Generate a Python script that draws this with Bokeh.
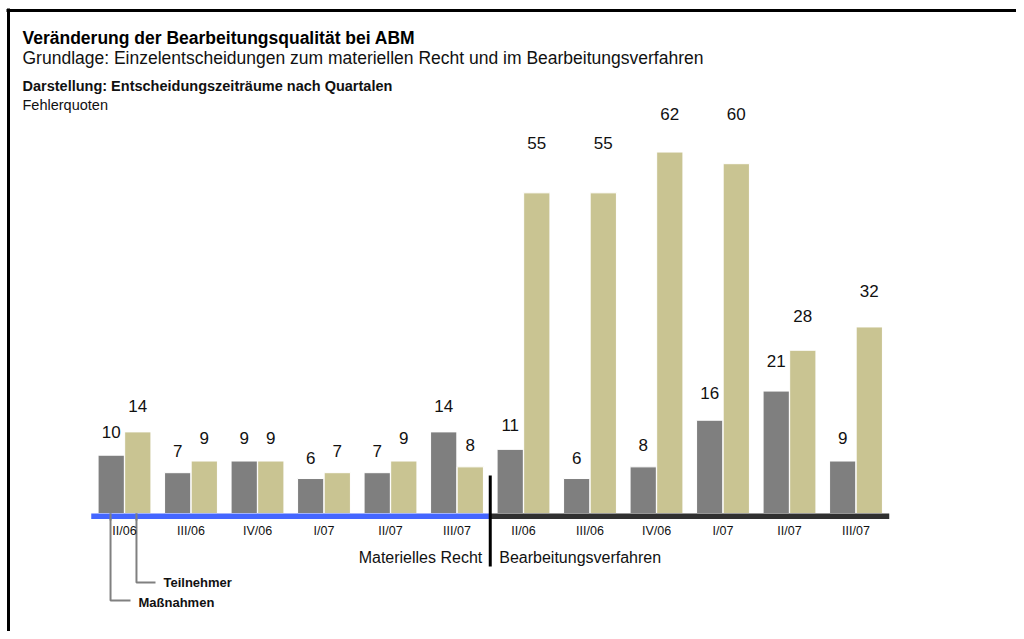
from bokeh.plotting import figure
from bokeh.models import ColumnDataSource, Label
from bokeh.core.properties import value
from bokeh.transform import dodge
from bokeh.embed import file_html
from bokeh.resources import INLINE

# ---- data ----
quarters = ["II/06", "III/06", "IV/06", "I/07", "II/07", "III/07",
            "II/06", "III/06", "IV/06", "I/07", "II/07", "III/07"]
massnahmen = [10, 7, 9, 6, 7, 14, 11, 6, 8, 16, 21, 9]
teilnehmer = [14, 9, 9, 7, 9, 8, 55, 55, 62, 60, 28, 32]
sections = ["Materielles Recht", "Bearbeitungsverfahren"]
title = "Veränderung der Bearbeitungsqualität bei ABM"
subtitle = "Grundlage: Einzelentscheidungen zum materiellen Recht und im Bearbeitungsverfahren"
darstellung = "Darstellung: Entscheidungszeiträume nach Quartalen"
unit_label = "Fehlerquoten"
legend_names = ["Maßnahmen", "Teilnehmer"]

FONT = "Liberation Sans"
W, H = 1016, 631
GROUP_PX = 66.5          # pixels per group
UNIT_PX = 5.83           # pixels per value unit
X0_PX = 124              # x of first group centre
Y0_PX = 513              # y of baseline (from top)

def X(px):
    return (px - X0_PX) / GROUP_PX

def Y(py):
    return (Y0_PX - py) / UNIT_PX

n = len(quarters)
idx = list(range(n))
src = ColumnDataSource(dict(
    x=idx, q=quarters, m=massnahmen, t=teilnehmer,
    m_lab=[str(v) for v in massnahmen], t_lab=[str(v) for v in teilnehmer],
    m_y=[min(v * 1.1 + 3, 68.5) for v in massnahmen],
    t_y=[min(v * 1.1 + 3, 68.5) for v in teilnehmer],
    tick_y=[Y(530)] * n,
))

p = figure(width=W, height=H, output_backend="svg", toolbar_location=None,
           x_range=(X(0), X(W)), y_range=(Y(H), Y(0)),
           min_border=0, min_border_left=0, min_border_right=0,
           min_border_top=0, min_border_bottom=0)
p.axis.visible = False
p.grid.visible = False
p.outline_line_color = None
p.background_fill_color = "white"
p.border_fill_color = "white"

GREY = "#7f7f7f"
TAN = "#c9c492"
BW = 0.395
OFF = 0.2

p.vbar(x=dodge("x", -OFF, range=p.x_range), top="m", bottom=0, width=BW, source=src,
       fill_color=GREY, line_color="white", line_width=1)
p.vbar(x=dodge("x", OFF, range=p.x_range), top="t", bottom=0, width=BW, source=src,
       fill_color=TAN, line_color="white", line_width=1)

# value labels
p.text(x=dodge("x", -OFF, range=p.x_range), y="m_y", text="m_lab", source=src,
       text_align="center", text_baseline="middle",
       text_font=value(FONT), text_font_size="17px", text_color="#111111")
p.text(x=dodge("x", OFF, range=p.x_range), y="t_y", text="t_lab", source=src,
       text_align="center", text_baseline="middle",
       text_font=value(FONT), text_font_size="17px", text_color="#111111")

# leader lines for legend
LX_M = -OFF - 0.01
LX_T = OFF - 0.02
p.line(x=[LX_M, LX_M, X(130)], y=[0, Y(600), Y(600)], line_color="#808080", line_width=2)
p.line(x=[LX_T, LX_T, X(155)], y=[0, Y(582), Y(582)], line_color="#808080", line_width=2)

# axis bands
half = n // 2
p.quad(left=[-0.5], right=[half - 0.52], top=[0], bottom=[Y(518.5)],
       fill_color="#4466ff", line_color=None)
p.quad(left=[half - 0.52], right=[n - 0.5], top=[0], bottom=[Y(518.5)],
       fill_color="#303030", line_color=None)
# leader segments cross the band
p.segment(x0=[LX_M, LX_T], y0=[0, 0], x1=[LX_M, LX_T], y1=[Y(520), Y(520)],
          line_color="#808080", line_width=2)

# separator
p.segment(x0=[half - 0.5], y0=[Y(475)], x1=[half - 0.5], y1=[Y(566)],
          line_color="black", line_width=3)

# tick labels
p.text(x="x", y="tick_y", text="q", source=src, text_align="center", text_baseline="middle",
       text_font=value(FONT), text_font_size="12.5px", text_color="#111111")

# section labels
p.add_layout(Label(x=half - 0.5, y=Y(557), x_offset=-8, text=sections[0], text_align="right",
                   text_baseline="middle", text_font=FONT, text_font_size="16px", text_color="#111111"))
p.add_layout(Label(x=half - 0.5, y=Y(557), x_offset=9, text=sections[1], text_align="left",
                   text_baseline="middle", text_font=FONT, text_font_size="16px", text_color="#111111"))

# legend labels
p.add_layout(Label(x=X(163), y=Y(582), text=legend_names[1], text_align="left", text_baseline="middle",
                   text_font=FONT, text_font_size="13px", text_font_style="bold", text_color="#111111"))
p.add_layout(Label(x=X(138), y=Y(602), text=legend_names[0], text_align="left", text_baseline="middle",
                   text_font=FONT, text_font_size="13px", text_font_style="bold", text_color="#111111"))

# headings
p.add_layout(Label(x=X(22), y=Y(37), text=title, text_align="left", text_baseline="middle",
                   text_font=FONT, text_font_size="17.5px", text_font_style="bold", text_color="#000000"))
p.add_layout(Label(x=X(22), y=Y(57), text=subtitle, text_align="left", text_baseline="middle",
                   text_font=FONT, text_font_size="17.5px", text_color="#111111"))
p.add_layout(Label(x=X(22), y=Y(85), text=darstellung, text_align="left", text_baseline="middle",
                   text_font=FONT, text_font_size="14.5px", text_font_style="bold", text_color="#111111"))
p.add_layout(Label(x=X(22), y=Y(104), text=unit_label, text_align="left", text_baseline="middle",
                   text_font=FONT, text_font_size="14.5px", text_color="#111111"))

# frame lines (top and left)
p.segment(x0=[X(6)], y0=[Y(10)], x1=[X(1030)], y1=[Y(10)], line_color="black", line_width=3)
p.segment(x0=[X(8)], y0=[Y(8)], x1=[X(8)], y1=[Y(650)], line_color="black", line_width=3)

open("out.html", "w").write(file_html(p, INLINE))
